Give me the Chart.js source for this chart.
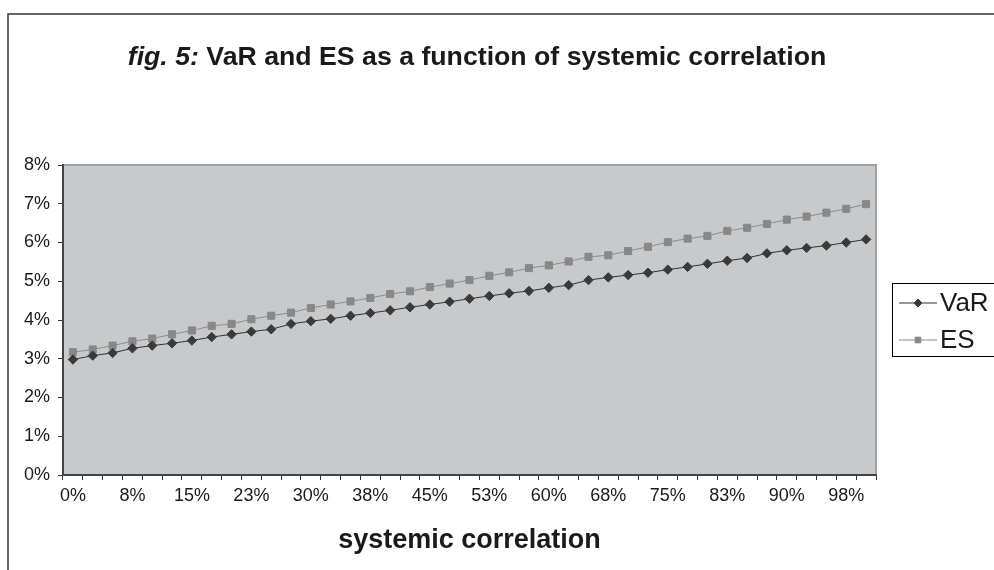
<!DOCTYPE html>
<html>
<head>
<meta charset="utf-8">
<script src="https://cdn.jsdelivr.net/npm/chart.js@4.4.1/dist/chart.umd.min.js"></script>
<style>
  body { margin: 0; background: #fff; }
  #wrap { width: 994px; height: 570px; }
</style>
</head>
<body>
<div id="wrap"><canvas id="myChart" width="994" height="570"></canvas></div>
<script>
// systemic correlation, in %
const categories = [0, 2.5, 5, 7.5, 10, 12.5, 15, 17.5, 20, 22.5, 25, 27.5, 30, 32.5, 35, 37.5, 40,
    42.5, 45, 47.5, 50, 52.5, 55, 57.5, 60, 62.5, 65, 67.5, 70, 72.5, 75, 77.5, 80, 82.5, 85, 87.5,
    90, 92.5, 95, 97.5, 100]
// shown under every third category
const tickLabels = ['0%', '8%', '15%', '23%', '30%', '38%', '45%', '53%', '60%', '68%', '75%', '83%', '90%', '98%']
const varValues = [2.98, 3.08, 3.15, 3.27, 3.34, 3.40, 3.47, 3.56, 3.63, 3.70, 3.76, 3.90, 3.97, 4.03,
    4.11, 4.18, 4.25, 4.33, 4.40, 4.47, 4.55, 4.62, 4.69, 4.75, 4.83, 4.90, 5.03, 5.10, 5.16, 5.22,
    5.30, 5.37, 5.45, 5.53, 5.60, 5.72, 5.80, 5.86, 5.92, 6.00, 6.08]
const esValues = [3.17, 3.24, 3.34, 3.45, 3.52, 3.63, 3.73, 3.85, 3.90, 4.02, 4.11, 4.19, 4.31, 4.40,
    4.48, 4.57, 4.67, 4.74, 4.85, 4.94, 5.03, 5.14, 5.23, 5.34, 5.41, 5.51, 5.63, 5.67, 5.78, 5.89,
    6.01, 6.10, 6.17, 6.30, 6.38, 6.48, 6.59, 6.67, 6.77, 6.87, 6.99]
const yTicks = [0, 1, 2, 3, 4, 5, 6, 7, 8]

const FONT = "'Liberation Sans', Arial, sans-serif"

// frame, title, plot background and legend
const decor = {
    id: 'decor',
    beforeDraw(chart) {
        const ctx = chart.ctx
        const a = chart.chartArea
        ctx.save()
        ctx.fillStyle = '#c8c9cb'
        ctx.fillRect(a.left, a.top, a.right - a.left, a.bottom - a.top)
        ctx.strokeStyle = '#a3a3a3'
        ctx.lineWidth = 2
        ctx.beginPath()
        ctx.moveTo(a.left, a.top)
        ctx.lineTo(a.right, a.top)
        ctx.lineTo(a.right, a.bottom)
        ctx.stroke()

        // outer frame (only top and left visible)
        ctx.strokeStyle = '#333'
        ctx.lineWidth = 1.5
        ctx.beginPath()
        ctx.moveTo(8, 570)
        ctx.lineTo(8, 14)
        ctx.lineTo(994, 14)
        ctx.stroke()

        // title
        const it = 'fig. 5:'
        const rest = ' VaR and ES as a function of systemic correlation'
        ctx.fillStyle = '#1a1a1a'
        ctx.textBaseline = 'alphabetic'
        ctx.font = 'italic bold 26.7px ' + FONT
        const w1 = ctx.measureText(it).width
        ctx.font = 'bold 26.7px ' + FONT
        const w2 = ctx.measureText(rest).width
        const x0 = 477 - (w1 + w2) / 2
        ctx.font = 'italic bold 26.7px ' + FONT
        ctx.fillText(it, x0, 65)
        ctx.font = 'bold 26.7px ' + FONT
        ctx.fillText(rest, x0 + w1, 65)
        ctx.restore()
    },
    afterDraw(chart) {
        const ctx = chart.ctx
        ctx.save()
        ctx.fillStyle = '#fff'
        ctx.fillRect(892, 283, 110, 73)
        ctx.strokeStyle = '#000'
        ctx.lineWidth = 1
        ctx.strokeRect(892.5, 283.5, 110, 73)
        const rows = [303, 340]
        chart.data.datasets.forEach((ds, i) => {
            const y = rows[i]
            ctx.strokeStyle = ds.borderColor
            ctx.lineWidth = 1
            ctx.beginPath()
            ctx.moveTo(899, y)
            ctx.lineTo(937, y)
            ctx.stroke()
            ctx.fillStyle = ds.pointBackgroundColor
            ctx.strokeStyle = ds.pointBorderColor
            Chart.helpers.drawPoint(ctx, {
                pointStyle: ds.pointStyle, radius: 4, borderWidth: 1, rotation: 0
            }, 918, y)
            ctx.fillStyle = '#1a1a1a'
            ctx.font = '26px ' + FONT
            ctx.textBaseline = 'middle'
            ctx.fillText(ds.label, 940, y + 1)
        })
        ctx.restore()
    }
}

new Chart(document.getElementById('myChart'), {
    type: 'line',
    data: {
        labels: categories,
        datasets: [{
            label: 'VaR',
            data: varValues,
            borderColor: '#333333',
            borderWidth: 1,
            pointStyle: 'rectRot',
            pointRadius: 4.7,
            pointBorderWidth: 1,
            pointBackgroundColor: '#3a3a3a',
            pointBorderColor: '#3a3a3a',
            tension: 0,
        }, {
            label: 'ES',
            data: esValues,
            borderColor: '#8c8c8c',
            borderWidth: 1,
            pointStyle: 'rect',
            pointRadius: 5,
            pointBorderWidth: 1,
            pointBackgroundColor: '#888888',
            pointBorderColor: '#888888',
            tension: 0,
        }]
    },
    options: {
        responsive: false,
        animation: false,
        layout: { padding: { left: 0, top: 165, right: 118, bottom: 0 } },
        scales: {
            x: {
                offset: true,
                afterFit: s => { s.height = 95 },
                border: { color: '#444', width: 2 },
                grid: { offset: true, drawOnChartArea: false, tickLength: 5, color: '#333' },
                ticks: {
                    autoSkip: false,
                    maxRotation: 0,
                    padding: 5,
                    color: '#1a1a1a',
                    font: { family: FONT, size: 18 },
                    callback: (v, i) => i % 3 === 0 ? tickLabels[i / 3] : ''
                },
                title: {
                    display: true,
                    text: 'systemic correlation',
                    color: '#1a1a1a',
                    font: { family: FONT, size: 27, weight: 'bold' },
                    padding: { top: 0, bottom: 13 }
                }
            },
            y: {
                min: 0,
                max: 8,
                afterFit: s => { s.width = 63 },
                afterBuildTicks: s => { s.ticks = yTicks.map(v => ({ value: v })) },
                border: { color: '#444', width: 2 },
                grid: { drawOnChartArea: false, tickLength: 5, color: '#333' },
                ticks: {
                    padding: 8,
                    color: '#1a1a1a',
                    font: { family: FONT, size: 18 },
                    callback: v => v + '%'
                }
            }
        },
        plugins: {
            legend: { display: false },
            tooltip: { enabled: false }
        }
    },
    plugins: [decor]
});
</script>
</body>
</html>
